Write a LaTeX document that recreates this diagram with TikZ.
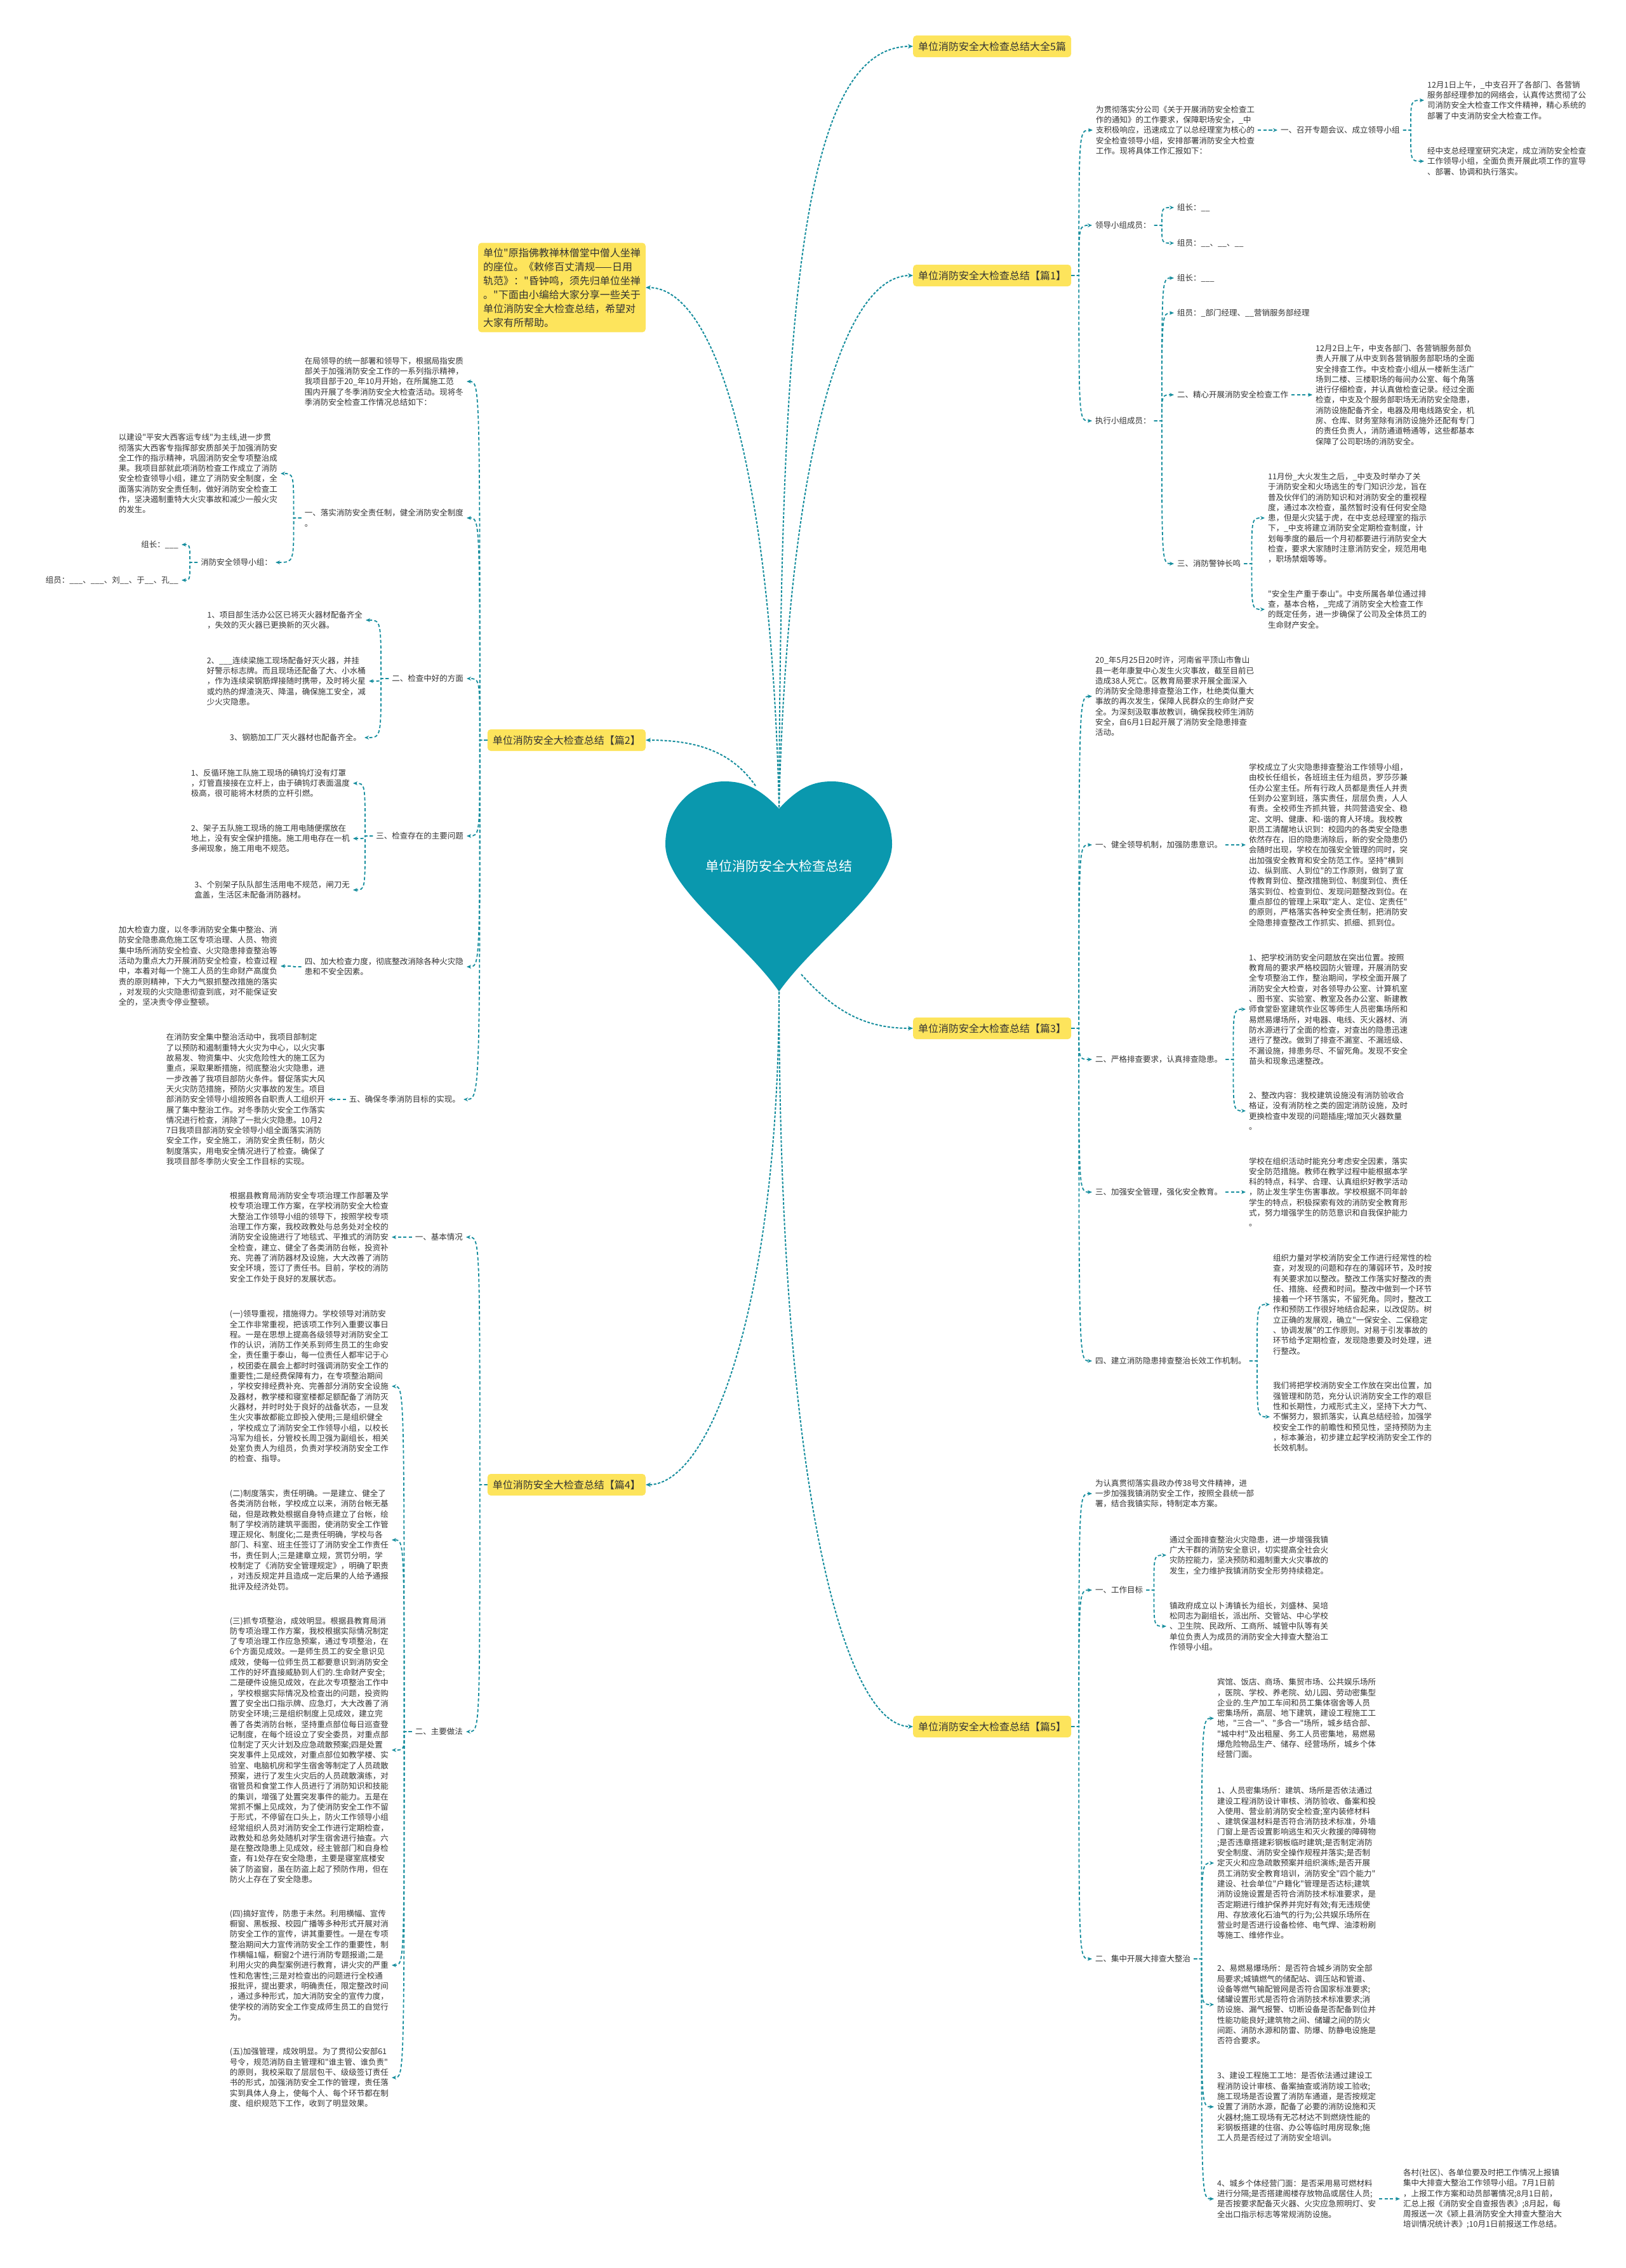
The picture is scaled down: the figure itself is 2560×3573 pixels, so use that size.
\documentclass[tikz,border=0pt]{standalone}
\usepackage{fontspec}
\setmainfont{Noto Sans CJK SC}[Ligatures=TeXOff]
\usetikzlibrary{arrows.meta,calc}
\definecolor{teal1}{HTML}{0A98AE}
\definecolor{teal2}{HTML}{178E9E}
\definecolor{yel}{HTML}{FDE45C}
\definecolor{txtc}{HTML}{333333}
\tikzset{
  conn/.style={draw=teal2, line width=1.8pt, dash pattern=on 5pt off 3.5pt, -{Stealth[length=7pt,width=6pt]}},
  rootc/.style={draw=teal2, line width=2pt, dash pattern=on 4pt off 2.5pt, -{Stealth[length=8pt,width=7pt]}},
  rt/.style={conn, to path={let \p1=(\tikztostart), \p2=(\tikztotarget) in -- (\x1+12pt,\y1) .. controls (\x1+12pt,\y2) .. (\p2)}},
  lt/.style={conn, to path={let \p1=(\tikztostart), \p2=(\tikztotarget) in -- (\x1-12pt,\y1) .. controls (\x1-12pt,\y2) .. (\p2)}},
  txt/.style={font=\fontsize{12.5}{16.3}\selectfont, text=txtc, align=left, inner xsep=5pt, inner ysep=2pt},
  rn/.style={txt, anchor=west},
  ln/.style={txt, anchor=east},
  ybox/.style={fill=yel, rounded corners=5pt, font=\fontsize{16}{20}\selectfont, text=txtc, minimum height=34pt, inner xsep=8pt},
}
\begin{document}
\begin{tikzpicture}[x=1pt,y=-1pt]
\fill[white] (0,0) rectangle (2560,3573);
\useasboundingbox (0,0) rectangle (2560,3573);

% heart
\fill[teal1] (1227,1274) .. controls (1195,1240) and (1170,1231) .. (1141,1231)
  .. controls (1090,1231) and (1048,1275) .. (1048,1330)
  .. controls (1048,1400) and (1170,1480) .. (1227,1562)
  .. controls (1285,1480) and (1405,1400) .. (1405,1330)
  .. controls (1405,1275) and (1365,1231) .. (1310,1231)
  .. controls (1282,1231) and (1258,1240) .. (1227,1274) -- cycle;
\node[font=\fontsize{21}{24}\selectfont, text=white] (root) at (1227,1364) {单位消防安全大检查总结};
\coordinate (rtop) at (1227,1272);
\coordinate (rbot) at (1227,1556);
\coordinate (rleft) at (1190,1238);
\coordinate (rright) at (1262,1535);

% main boxes
\node[ybox, anchor=west] (b0) at (1438,73) {单位消防安全大检查总结大全5篇};
\node[ybox, anchor=west] (b1) at (1438,434) {单位消防安全大检查总结【篇1】};
\node[ybox, anchor=west] (b3) at (1438,1620) {单位消防安全大检查总结【篇3】};
\node[ybox, anchor=west] (b5) at (1438,2720) {单位消防安全大检查总结【篇5】};
\node[ybox, anchor=east] (b2) at (1017,1166) {单位消防安全大检查总结【篇2】};
\node[ybox, anchor=east] (b4) at (1017,2339) {单位消防安全大检查总结【篇4】};
\node[fill=yel, rounded corners=5pt, font=\fontsize{16}{22}\selectfont, text=txtc, align=left, inner sep=8pt, anchor=east] (intro) at (1017,453)
{单位"原指佛教禅林僧堂中僧人坐禅\\的座位。《敕修百丈清规——日用\\轨范》："昏钟鸣，须先归单位坐禅\\。"下面由小编给大家分享一些关于\\单位消防安全大检查总结，希望对\\大家有所帮助。};

\draw[rootc] (rtop) .. controls (1230,500) and (1260,73) .. (b0.west);
\draw[rootc] (rtop) .. controls (1240,750) and (1320,434) .. (b1.west);
\draw[rootc] (rtop) .. controls (1215,750) and (1130,453) .. (intro.east);
\draw[rootc] (rleft) .. controls (1150,1180) and (1090,1166) .. (b2.east);
\draw[rootc] (rright) .. controls (1320,1600) and (1370,1620) .. (b3.west);
\draw[rootc] (rbot) .. controls (1227,2050) and (1120,2339) .. (b4.east);
\draw[rootc] (rbot) .. controls (1227,2350) and (1330,2720) .. (b5.west);

% ---------------- 篇1 ----------------
\node[rn] (p1a) at (1721,205) {为贯彻落实分公司《关于开展消防安全检查工\\作的通知》的工作要求，保障职场安全，\_中\\支积极响应，迅速成立了以总经理室为核心的\\安全检查领导小组，安排部署消防安全大检查\\工作。现将具体工作汇报如下：};
\node[rn] (p1a1) at (2012,205) {一、召开专题会议、成立领导小组};
\node[rn] (p1a1a) at (2243,158) {12月1日上午，\_中支召开了各部门、各营销\\服务部经理参加的网络会，认真传达贯彻了公\\司消防安全大检查工作文件精神，精心系统的\\部署了中支消防安全大检查工作。};
\node[rn] (p1a1b) at (2243,254) {经中支总经理室研究决定，成立消防安全检查\\工作领导小组，全面负责开展此项工作的宣导\\、部署、协调和执行落实。};
\node[rn] (p1b) at (1720,355) {领导小组成员：};
\node[rn] (p1b1) at (1849,327) {组长：\_\_};
\node[rn] (p1b2) at (1849,383) {组员：\_\_、\_\_、\_\_};
\node[rn] (p1c) at (1720,663) {执行小组成员：};
\node[rn] (p1c1) at (1849,438) {组长：\_\_\_};
\node[rn] (p1c2) at (1849,493) {组员：\_部门经理、\_\_营销服务部经理};
\node[rn] (p1c3) at (1849,622) {二、精心开展消防安全检查工作};
\node[rn] (p1c3a) at (2067,622) {12月2日上午，中支各部门、各营销服务部负\\责人开展了从中支到各营销服务部职场的全面\\安全排查工作。中支检查小组从一楼新生活广\\场到二楼、三楼职场的每间办公室、每个角落\\进行仔细检查，并认真做检查记录。经过全面\\检查，中支及个服务部职场无消防安全隐患，\\消防设施配备齐全，电器及用电线路安全，机\\房、仓库、财务室除有消防设施外还配有专门\\的责任负责人，消防通道畅通等，这些都基本\\保障了公司职场的消防安全。};
\node[rn] (p1c4) at (1849,888) {三、消防警钟长鸣};
\node[rn] (p1c4a) at (1992,816) {11月份\_大火发生之后，\_中支及时举办了关\\于消防安全和火场逃生的专门知识沙龙，旨在\\普及伙伴们的消防知识和对消防安全的重视程\\度，通过本次检查，虽然暂时没有任何安全隐\\患，但是火灾猛于虎，在中支总经理室的指示\\下，\_中支将建立消防安全定期检查制度，计\\划每季度的最后一个月初都要进行消防安全大\\检查，要求大家随时注意消防安全，规范用电\\，职场禁烟等等。};
\node[rn] (p1c4b) at (1992,960) {"安全生产重于泰山"。中支所属各单位通过排\\查，基本合格，\_完成了消防安全大检查工作\\的既定任务，进一步确保了公司及全体员工的\\生命财产安全。};

\draw[rt] (b1.east) to (p1a.west);
\draw[rt] (b1.east) to (p1b.west);
\draw[rt] (b1.east) to (p1c.west);
\draw[rt] (p1a.east) to (p1a1.west);
\draw[rt] (p1a1.east) to (p1a1a.west);
\draw[rt] (p1a1.east) to (p1a1b.west);
\draw[rt] (p1b.east) to (p1b1.west);
\draw[rt] (p1b.east) to (p1b2.west);
\draw[rt] (p1c.east) to (p1c1.west);
\draw[rt] (p1c.east) to (p1c2.west);
\draw[rt] (p1c.east) to (p1c3.west);
\draw[rt] (p1c.east) to (p1c4.west);
\draw[rt] (p1c3.east) to (p1c3a.west);
\draw[rt] (p1c4.east) to (p1c4a.west);
\draw[rt] (p1c4.east) to (p1c4b.west);

% ---------------- 篇3 ----------------
\node[rn] (p3a) at (1720,1097) {20\_年5月25日20时许，河南省平顶山市鲁山\\县一老年康复中心发生火灾事故，截至目前已\\造成38人死亡。区教育局要求开展全面深入\\的消防安全隐患排查整治工作，杜绝类似重大\\事故的再次发生，保障人民群众的生命财产安\\全。为深刻汲取事故教训，确保我校师生消防\\安全，自6月1日起开展了消防安全隐患排查\\活动。};
\node[rn] (p3b) at (1720,1331) {一、健全领导机制，加强防患意识。};
\node[rn] (p3b1) at (1962,1331) {学校成立了火灾隐患排查整治工作领导小组，\\由校长任组长，各班班主任为组员，罗莎莎兼\\任办公室主任。所有行政人员都是责任人并责\\任到办公室到班，落实责任，层层负责，人人\\有责。全校师生齐抓共管，共同营造安全、稳\\定、文明、健康、和-谐的育人环境。我校教\\职员工清醒地认识到：校园内的各类安全隐患\\依然存在，旧的隐患消除后，新的安全隐患仍\\会随时出现，学校在加强安全管理的同时，突\\出加强安全教育和安全防范工作。坚持"横到\\边、纵到底、人到位"的工作原则，做到了宣\\传教育到位、整改措施到位、制度到位、责任\\落实到位、检查到位、发现问题整改到位。在\\重点部位的管理上采取"定人、定位、定责任"\\的原则，严格落实各种安全责任制，把消防安\\全隐患排查整改工作抓实、抓细、抓到位。};
\node[rn] (p3c) at (1720,1669) {二、严格排查要求，认真排查隐患。};
\node[rn] (p3c1) at (1962,1590) {1、把学校消防安全问题放在突出位置。按照\\教育局的要求严格校园防火管理，开展消防安\\全专项整治工作，整治期间，学校全面开展了\\消防安全大检查，对各领导办公室、计算机室\\、图书室、实验室、教室及各办公室、新建教\\师食堂卧室建筑作业区等师生人员密集场所和\\易燃易爆场所，对电器、电线、灭火器材、消\\防水源进行了全面的检查，对查出的隐患迅速\\进行了整改。做到了排查不漏室、不漏班级、\\不漏设施，排患务尽、不留死角。发现不安全\\苗头和现象迅速整改。};
\node[rn] (p3c2) at (1962,1750) {2、整改内容：我校建筑设施没有消防验收合\\格证，没有消防栓之类的固定消防设施，及时\\更换检查中发现的问题插座;增加灭火器数量\\。};
\node[rn] (p3d) at (1720,1878) {三、加强安全管理，强化安全教育。};
\node[rn] (p3d1) at (1962,1878) {学校在组织活动时能充分考虑安全因素，落实\\安全防范措施。教师在教学过程中能根据本学\\科的特点，科学、合理、认真组织好教学活动\\，防止发生学生伤害事故。学校根据不同年龄\\学生的特点，积极探索有效的消防安全教育形\\式，努力增强学生的防范意识和自我保护能力\\。};
\node[rn] (p3e) at (1720,2144) {四、建立消防隐患排查整治长效工作机制。};
\node[rn] (p3e1) at (2000,2055) {组织力量对学校消防安全工作进行经常性的检\\查，对发现的问题和存在的薄弱环节，及时按\\有关要求加以整改。整改工作落实好整改的责\\任、措施、经费和时间。整改中做到一个环节\\接着一个环节落实，不留死角。同时，整改工\\作和预防工作很好地结合起来，以改促防。树\\立正确的发展观，确立"一保安全、二保稳定\\、协调发展"的工作原则。对易于引发事故的\\环节给予定期检查，发现隐患要及时处理，进\\行整改。};
\node[rn] (p3e2) at (2000,2232) {我们将把学校消防安全工作放在突出位置，加\\强管理和防范，充分认识消防安全工作的艰巨\\性和长期性，力戒形式主义，坚持下大力气、\\不懈努力，狠抓落实，认真总结经验，加强学\\校安全工作的前瞻性和预见性，坚持预防为主\\，标本兼治，初步建立起学校消防安全工作的\\长效机制。};

\draw[rt] (b3.east) to (p3a.west);
\draw[rt] (b3.east) to (p3b.west);
\draw[rt] (b3.east) to (p3c.west);
\draw[rt] (b3.east) to (p3d.west);
\draw[rt] (b3.east) to (p3e.west);
\draw[rt] (p3b.east) to (p3b1.west);
\draw[rt] (p3c.east) to (p3c1.west);
\draw[rt] (p3c.east) to (p3c2.west);
\draw[rt] (p3d.east) to (p3d1.west);
\draw[rt] (p3e.east) to (p3e1.west);
\draw[rt] (p3e.east) to (p3e2.west);

% ---------------- 篇5 ----------------
\node[rn] (p5a) at (1720,2353) {为认真贯彻落实县政办传38号文件精神，进\\一步加强我镇消防安全工作，按照全县统一部\\署，结合我镇实际，特制定本方案。};
\node[rn] (p5b) at (1720,2505) {一、工作目标};
\node[rn] (p5b1) at (1837,2450) {通过全面排查整治火灾隐患，进一步增强我镇\\广大干群的消防安全意识，切实提高全社会火\\灾防控能力，坚决预防和遏制重大火灾事故的\\发生，全力维护我镇消防安全形势持续稳定。};
\node[rn] (p5b2) at (1837,2562) {镇政府成立以卜涛镇长为组长，刘盛林、吴培\\松同志为副组长，派出所、交管站、中心学校\\、卫生院、民政所、工商所、城管中队等有关\\单位负责人为成员的消防安全大排查大整治工\\作领导小组。};
\node[rn] (p5c) at (1720,3086) {二、集中开展大排查大整治};
\node[rn] (p5c1) at (1912,2707) {宾馆、饭店、商场、集贸市场、公共娱乐场所\\，医院、学校、养老院、幼儿园、劳动密集型\\企业的.生产加工车间和员工集体宿舍等人员\\密集场所，高层、地下建筑，建设工程施工工\\地，"三合一"、"多合一"场所，城乡结合部、\\"城中村"及出租屋、务工人员密集地，易燃易\\爆危险物品生产、储存、经营场所，城乡个体\\经营门面。};
\node[rn] (p5c2) at (1912,2935) {1、人员密集场所：建筑、场所是否依法通过\\建设工程消防设计审核、消防验收、备案和投\\入使用、营业前消防安全检查;室内装修材料\\、建筑保温材料是否符合消防技术标准，外墙\\门窗上是否设置影响逃生和灭火救援的障碍物\\;是否违章搭建彩钢板临时建筑;是否制定消防\\安全制度、消防安全操作规程并落实;是否制\\定灭火和应急疏散预案并组织演练;是否开展\\员工消防安全教育培训，消防安全"四个能力"\\建设、社会单位"户籍化"管理是否达标;建筑\\消防设施设置是否符合消防技术标准要求，是\\否定期进行维护保养并完好有效;有无违规使\\用、存放液化石油气的行为;公共娱乐场所在\\营业时是否进行设备检修、电气焊、油漆粉刷\\等施工、维修作业。};
\node[rn] (p5c3) at (1912,3158) {2、易燃易爆场所：是否符合城乡消防安全部\\局要求;城镇燃气的储配站、调压站和管道、\\设备等燃气输配管网是否符合国家标准要求;\\储罐设置形式是否符合消防技术标准要求;消\\防设施、漏气报警、切断设备是否配备到位并\\性能功能良好;建筑物之间、储罐之间的防火\\间距、消防水源和防雷、防爆、防静电设施是\\否符合要求。};
\node[rn] (p5c4) at (1912,3319) {3、建设工程施工工地：是否依法通过建设工\\程消防设计审核、备案抽查或消防竣工验收;\\施工现场是否设置了消防车通道，是否按规定\\设置了消防水源，配备了必要的消防设施和灭\\火器材;施工现场有无芯材达不到燃烧性能的\\彩钢板搭建的住宿、办公等临时用房现象;施\\工人员是否经过了消防安全培训。};
\node[rn] (p5c5) at (1912,3464) {4、城乡个体经营门面：是否采用易可燃材料\\进行分隔;是否搭建阁楼存放物品或居住人员;\\是否按要求配备灭火器、火灾应急照明灯、安\\全出口指示标志等常规消防设施。};
\node[rn] (p5c5a) at (2205,3464) {各村(社区)、各单位要及时把工作情况上报镇\\集中大排查大整治工作领导小组。7月1日前\\，上报工作方案和动员部署情况;8月1日前，\\汇总上报《消防安全自查报告表》;8月起，每\\周报送一次《颍上县消防安全大排查大整治大\\培训情况统计表》;10月1日前报送工作总结。};

\draw[rt] (b5.east) to (p5a.west);
\draw[rt] (b5.east) to (p5b.west);
\draw[rt] (b5.east) to (p5c.west);
\draw[rt] (p5b.east) to (p5b1.west);
\draw[rt] (p5b.east) to (p5b2.west);
\draw[rt] (p5c.east) to (p5c1.west);
\draw[rt] (p5c.east) to (p5c2.west);
\draw[rt] (p5c.east) to (p5c3.west);
\draw[rt] (p5c.east) to (p5c4.west);
\draw[rt] (p5c.east) to (p5c5.west);
\draw[rt] (p5c5.east) to (p5c5a.west);

% ---------------- 篇2 ----------------
\node[ln] (q2a) at (735,601) {在局领导的统一部署和领导下，根据局指安质\\部关于加强消防安全工作的一系列指示精神，\\我项目部于20\_年10月开始，在所属施工范\\围内开展了冬季消防安全大检查活动。现将冬\\季消防安全检查工作情况总结如下：};
\node[ln] (q2b) at (735,816) {一、落实消防安全责任制，健全消防安全制度\\。};
\node[ln] (q2b1) at (442,746) {以建设"平安大西客运专线"为主线,进一步贯\\彻落实大西客专指挥部安质部关于加强消防安\\全工作的指示精神，巩固消防安全专项整治成\\果。我项目部就此项消防检查工作成立了消防\\安全检查领导小组，建立了消防安全制度，全\\面落实消防安全责任制，做好消防安全检查工\\作，坚决遏制重特大火灾事故和减少一般火灾\\的发生。};
\node[ln] (q2b2) at (434,886) {消防安全领导小组：};
\node[ln] (q2b2a) at (286,858) {组长：\_\_\_};
\node[ln] (q2b2b) at (286,914) {组员：\_\_\_、\_\_\_、刘\_\_、于\_\_、孔\_\_};
\node[ln] (q2c) at (735,1069) {二、检查中好的方面};
\node[ln] (q2c1) at (576,977) {1、项目部生活办公区已将灭火器材配备齐全\\，失效的灭火器已更换新的灭火器。};
\node[ln] (q2c2) at (581,1073) {2、\_\_\_连续梁施工现场配备好灭火器，并挂\\好警示标志牌。而且现场还配备了大、小水桶\\，作为连续梁钢筋焊接随时携带，及时将火星\\或灼热的焊渣浇灭、降温，确保施工安全，减\\少火灾隐患。};
\node[ln] (q2c3) at (574,1162) {3、钢筋加工厂灭火器材也配备齐全。};
\node[ln] (q2d) at (735,1317) {三、检查存在的主要问题};
\node[ln] (q2d1) at (556,1234) {1、反循环施工队施工现场的碘钨灯没有灯罩\\，灯管直接接在立杆上，由于碘钨灯表面温度\\极高，很可能将木材质的立杆引燃。};
\node[ln] (q2d2) at (556,1321) {2、架子五队施工现场的施工用电随便摆放在\\地上，没有安全保护措施。施工用电存在一机\\多闸现象，施工用电不规范。};
\node[ln] (q2d3) at (556,1402) {3、个别架子队队部生活用电不规范，闸刀无\\盒盖，生活区未配备消防器材。};
\node[ln] (q2e) at (735,1523) {四、加大检查力度，彻底整改消除各种火灾隐\\患和不安全因素。};
\node[ln] (q2e1) at (442,1522) {加大检查力度，以冬季消防安全集中整治、消\\防安全隐患高危施工区专项治理、人员、物资\\集中场所消防安全检查、火灾隐患排查整治等\\活动为重点大力开展消防安全检查，检查过程\\中，本着对每一个施工人员的生命财产高度负\\责的原则精神，下大力气狠抓整改措施的落实\\，对发现的火灾隐患彻查到底，对不能保证安\\全的，坚决责令停业整顿。};
\node[ln] (q2f) at (730,1732) {五、确保冬季消防目标的实现。};
\node[ln] (q2f1) at (517,1732) {在消防安全集中整治活动中，我项目部制定\\了以预防和遏制重特大火灾为中心，以火灾事\\故易发、物资集中、火灾危险性大的施工区为\\重点，采取果断措施，彻底整治火灾隐患，进\\一步改善了我项目部防火条件。督促落实大风\\天火灾防范措施，预防火灾事故的发生。项目\\部消防安全领导小组按照各自职责人工组织开\\展了集中整治工作。对冬季防火安全工作落实\\情况进行检查，消除了一批火灾隐患。10月2\\7日我项目部消防安全领导小组全面落实消防\\安全工作，安全施工，消防安全责任制，防火\\制度落实，用电安全情况进行了检查。确保了\\我项目部冬季防火安全工作目标的实现。};

\draw[lt] (b2.west) to (q2a.east);
\draw[lt] (b2.west) to (q2b.east);
\draw[lt] (b2.west) to (q2c.east);
\draw[lt] (b2.west) to (q2d.east);
\draw[lt] (b2.west) to (q2e.east);
\draw[lt] (b2.west) to (q2f.east);
\draw[lt] (q2b.west) to (q2b1.east);
\draw[lt] (q2b.west) to (q2b2.east);
\draw[lt] (q2b2.west) to (q2b2a.east);
\draw[lt] (q2b2.west) to (q2b2b.east);
\draw[lt] (q2c.west) to (q2c1.east);
\draw[lt] (q2c.west) to (q2c2.east);
\draw[lt] (q2c.west) to (q2c3.east);
\draw[lt] (q2d.west) to (q2d1.east);
\draw[lt] (q2d.west) to (q2d2.east);
\draw[lt] (q2d.west) to (q2d3.east);
\draw[lt] (q2e.west) to (q2e1.east);
\draw[lt] (q2f.west) to (q2f1.east);

% ---------------- 篇4 ----------------
\node[ln] (q4a) at (734,1949) {一、基本情况};
\node[ln] (q4a1) at (617,1949) {根据县教育局消防安全专项治理工作部署及学\\校专项治理工作方案，在学校消防安全大检查\\大整治工作领导小组的领导下，按照学校专项\\治理工作方案，我校政教处与总务处对全校的\\消防安全设施进行了地毯式、平推式的消防安\\全检查，建立、健全了各类消防台帐，投资补\\充、完善了消防器材及设施，大大改善了消防\\安全环境，签订了责任书。目前，学校的消防\\安全工作处于良好的发展状态。};
\node[ln] (q4b) at (734,2728) {二、主要做法};
\node[ln] (q4b1) at (617,2184) {(一)领导重视，措施得力。学校领导对消防安\\全工作非常重视，把该项工作列入重要议事日\\程。一是在思想上提高各级领导对消防安全工\\作的认识，消防工作关系到师生员工的生命安\\全，责任重于泰山，每一位责任人都牢记于心\\，校团委在晨会上都时时强调消防安全工作的\\重要性;二是经费保障有力，在专项整治期间\\，学校安排经费补充、完善部分消防安全设施\\及器材，教学楼和寝室楼都足额配备了消防灭\\火器材，并时时处于良好的战备状态，一旦发\\生火灾事故都能立即投入使用;三是组织健全\\，学校成立了消防安全工作领导小组，以校长\\冯军为组长，分管校长周卫强为副组长，相关\\处室负责人为组员，负责对学校消防安全工作\\的检查、指导。};
\node[ln] (q4b2) at (617,2426) {(二)制度落实，责任明确。一是建立、健全了\\各类消防台帐，学校成立以来，消防台帐无基\\础，但是政教处根据自身特点建立了台帐，绘\\制了学校消防建筑平面图，使消防安全工作管\\理正规化、制度化;二是责任明确，学校与各\\部门、科室、班主任签订了消防安全工作责任\\书，责任到人;三是建章立规，赏罚分明，学\\校制定了《消防安全管理规定》，明确了职责\\，对违反规定并且造成一定后果的人给予通报\\批评及经济处罚。};
\node[ln] (q4b3) at (617,2757) {(三)抓专项整治，成效明显。根据县教育局消\\防专项治理工作方案，我校根据实际情况制定\\了专项治理工作应急预案，通过专项整治，在\\6个方面见成效。一是师生员工的安全意识见\\成效，使每一位师生员工都要意识到消防安全\\工作的好坏直接威胁到人们的.生命财产安全;\\二是硬件设施见成效，在此次专项整治工作中\\，学校根据实际情况及检查出的问题，投资购\\置了安全出口指示牌、应急灯，大大改善了消\\防安全环境;三是组织制度上见成效，建立完\\善了各类消防台帐，坚持重点部位每日巡查登\\记制度，在每个班设立了安全委员，对重点部\\位制定了灭火计划及应急疏散预案;四是处置\\突发事件上见成效，对重点部位如教学楼、实\\验室、电脑机房和学生宿舍等制定了人员疏散\\预案，进行了发生火灾后的人员疏散演练，对\\宿管员和食堂工作人员进行了消防知识和技能\\的集训，增强了处置突发事件的能力。五是在\\常抓不懈上见成效，为了使消防安全工作不留\\于形式，不停留在口头上，防火工作领导小组\\经常组织人员对消防安全工作进行定期检查，\\政教处和总务处随机对学生宿舍进行抽查。六\\是在整改隐患上见成效，经主管部门和自身检\\查，有1处存在安全隐患，主要是寝室底楼安\\装了防盗窗，虽在防盗上起了预防作用，但在\\防火上存在了安全隐患。};
\node[ln] (q4b4) at (617,3096) {(四)搞好宣传，防患于未然。利用横幅、宣传\\橱窗、黑板报、校园广播等多种形式开展对消\\防安全工作的宣传，讲其重要性。一是在专项\\整治期间大力宣传消防安全工作的重要性，制\\作横幅1幅，橱窗2个进行消防专题报道;二是\\利用火灾的典型案例进行教育，讲火灾的严重\\性和危害性;三是对检查出的问题进行全校通\\报批评，提出要求，明确责任，限定整改时间\\，通过多种形式，加大消防安全的宣传力度，\\使学校的消防安全工作变成师生员工的自觉行\\为。};
\node[ln] (q4b5) at (617,3273) {(五)加强管理，成效明显。为了贯彻公安部61\\号令，规范消防自主管理和"谁主管、谁负责"\\的原则，我校采取了层层包干、级级签订责任\\书的形式，加强消防安全工作的管理，责任落\\实到具体人身上，使每个人、每个环节都在制\\度、组织规范下工作，收到了明显效果。};

\draw[lt] (b4.west) to (q4a.east);
\draw[lt] (b4.west) to (q4b.east);
\draw[lt] (q4a.west) to (q4a1.east);
\draw[lt] (q4b.west) to (q4b1.east);
\draw[lt] (q4b.west) to (q4b2.east);
\draw[lt] (q4b.west) to (q4b3.east);
\draw[lt] (q4b.west) to (q4b4.east);
\draw[lt] (q4b.west) to (q4b5.east);
\end{tikzpicture}
\end{document}
